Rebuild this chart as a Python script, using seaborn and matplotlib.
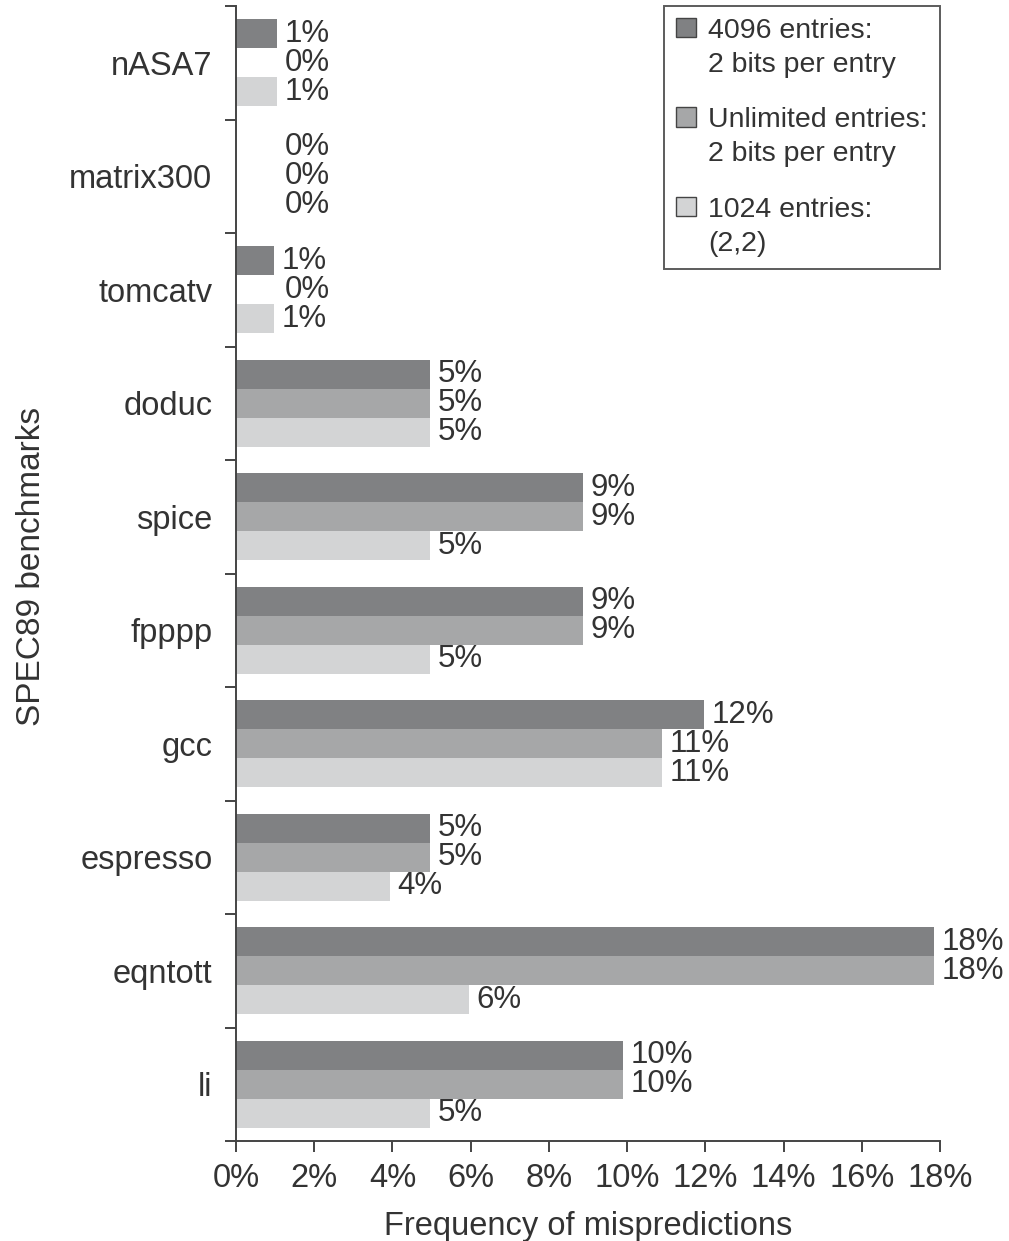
import matplotlib
matplotlib.use('Agg')
import matplotlib.pyplot as plt
import seaborn as sns
import pandas as pd
import numpy as np

benchmarks = ['nASA7', 'matrix300', 'tomcatv', 'doduc', 'spice', 'fpppp',
              'gcc', 'espresso', 'eqntott', 'li']
series = ['4096 entries:\n2 bits per entry',
          'Unlimited entries:\n2 bits per entry',
          '1024 entries:\n(2,2)']

# bar lengths (percent)
v_4096 = [1.05, 0, 0.98, 4.97, 8.87, 8.87, 11.96, 4.97, 17.85, 9.9]
v_unlim = [0, 0, 0, 4.97, 8.87, 8.87, 10.9, 4.97, 17.85, 9.9]
v_1024 = [1.05, 0, 0.98, 4.97, 4.97, 4.97, 10.9, 3.93, 5.96, 4.97]

# printed labels
lab_4096 = ['1%', '0%', '1%', '5%', '9%', '9%', '12%', '5%', '18%', '10%']
lab_unlim = ['0%', '0%', '0%', '5%', '9%', '9%', '11%', '5%', '18%', '10%']
lab_1024 = ['1%', '0%', '1%', '5%', '5%', '5%', '11%', '4%', '6%', '5%']

xticks = [0, 2, 4, 6, 8, 10, 12, 14, 16, 18]
colors = ['#808183', '#a6a7a8', '#d3d4d5']
TXT = '#333333'

rows = []
for s, vals in zip(series, [v_4096, v_unlim, v_1024]):
    for b, v in zip(benchmarks, vals):
        rows.append({'benchmark': b, 'series': s, 'value': v})
df = pd.DataFrame(rows)

sns.set_theme(style='white')
plt.rcParams['font.family'] = ['Liberation Sans', 'DejaVu Sans']
plt.rcParams['text.color'] = TXT
plt.rcParams['axes.labelcolor'] = TXT
plt.rcParams['xtick.color'] = TXT
plt.rcParams['ytick.color'] = TXT

fig = plt.figure(figsize=(10.09, 12.41), dpi=100)
ax = fig.add_axes([236 / 1009, 1 - 1141 / 1241, (940 - 236) / 1009, (1141 - 6) / 1241])

sns.barplot(data=df, x='value', y='benchmark', hue='series', orient='h',
            palette=colors, saturation=1, width=0.77, ax=ax, legend=True,
            linewidth=0, edgecolor='none')

ax.set_xlim(0, 18)
ax.set_ylim(9.5, -0.5)

# value labels
for cont, labs in zip(ax.containers, [lab_4096, lab_unlim, lab_1024]):
    for bar, lab in zip(cont, labs):
        w = bar.get_width()
        lx = w if w > 0 else 1.05
        ax.annotate(lab, xy=(lx, bar.get_y() + bar.get_height() / 2),
                    xytext=(5.5, 0), textcoords='offset points',
                    va='center', ha='left', fontsize=22.5, color=TXT,
                    annotation_clip=False)

ax.set_xticks(xticks)
ax.set_xticklabels([f'{t}%' for t in xticks], fontsize=23.5)
ax.set_yticks(range(len(benchmarks)))
ax.set_yticklabels(benchmarks, fontsize=23.5)
ax.set_yticks(np.arange(-0.5, len(benchmarks)), minor=True)
ax.tick_params(axis='y', which='major', length=0, pad=17)
ax.tick_params(axis='y', which='minor', length=8, width=1.4, color='#444444', left=True)
ax.tick_params(axis='x', which='major', length=8, width=1.4, color='#444444', bottom=True, pad=8)

ax.set_xlabel('Frequency of mispredictions', fontsize=23.5, labelpad=12)
ax.set_ylabel('SPEC89 benchmarks', fontsize=24)
ax.yaxis.set_label_coords(-0.268, 0.506)

sns.despine(ax=ax)
for sp in ['left', 'bottom']:
    ax.spines[sp].set_color('#444444')
    ax.spines[sp].set_linewidth(1.4)

leg = ax.legend(loc='upper right', bbox_to_anchor=(1.0, 1.0), borderaxespad=0,
                fontsize=20.5, frameon=True, fancybox=False, edgecolor='#333333',
                handlelength=0.7, handleheight=0.66, handletextpad=0.42,
                labelspacing=1.05, borderpad=0.42, title=None)
leg.get_frame().set_linewidth(1.4)
for t in leg.get_texts():
    t.set_linespacing(1.38)
for h in leg.legend_handles:
    h.set_edgecolor('#444444')
    h.set_linewidth(1.0)
# put each swatch beside the first line of its label
for col in leg._legend_handle_box.get_children():
    for row in col.get_children():
        row.align = 'top'

fig.savefig('out.png', dpi=100)
